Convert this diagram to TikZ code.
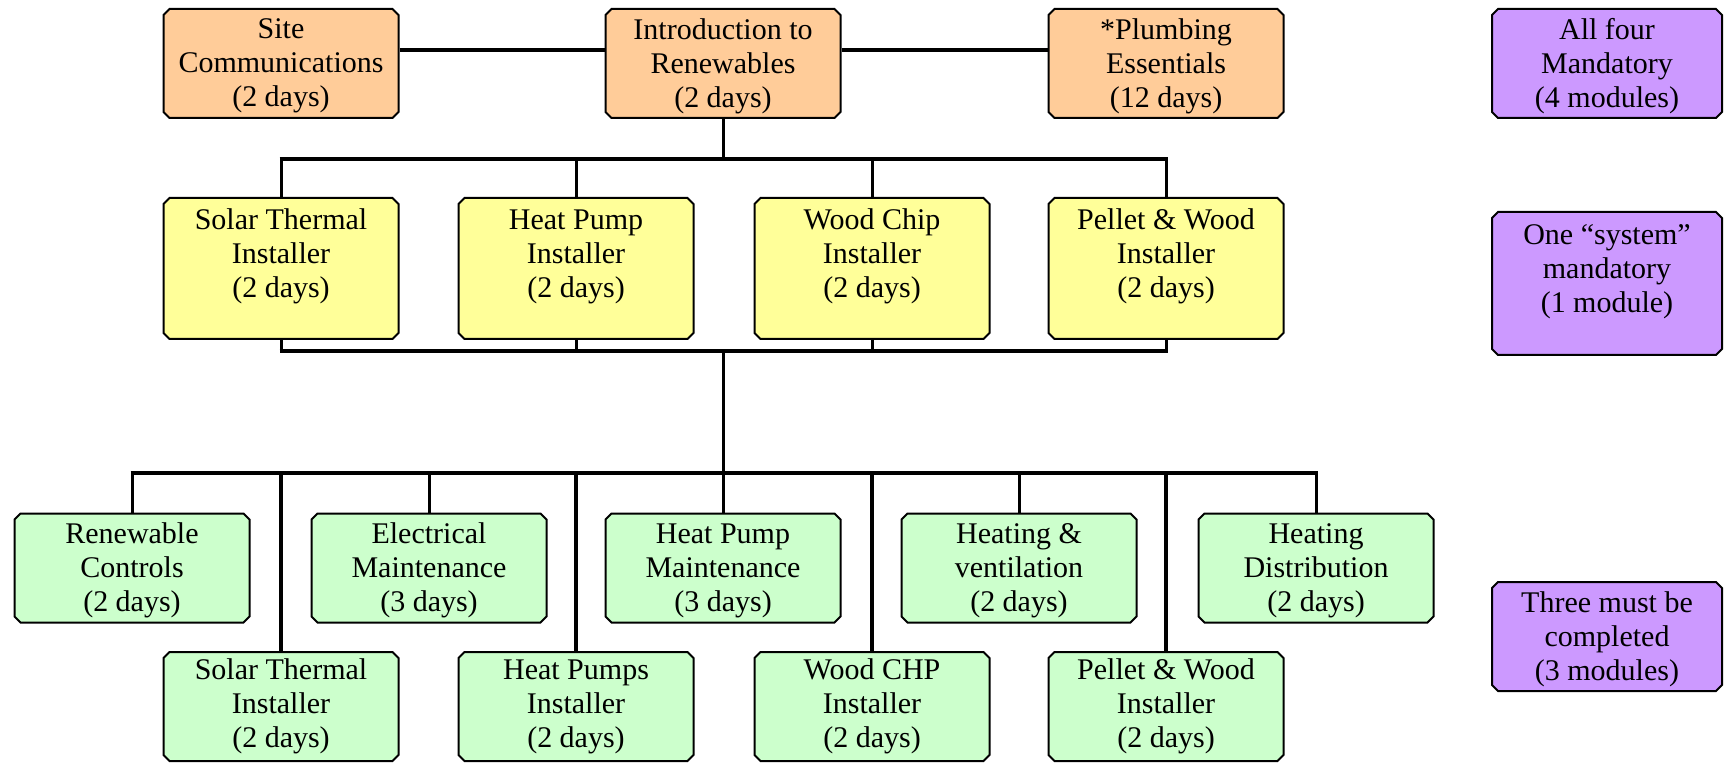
\documentclass[tikz,border=0pt]{standalone}
\usepackage{fontspec}
\setmainfont{Liberation Serif}
\usetikzlibrary{shapes.misc}
\definecolor{peach}{HTML}{FFCC99}
\definecolor{lyellow}{HTML}{FFFF99}
\definecolor{lgreen}{HTML}{CCFFCC}
\definecolor{lpurple}{HTML}{CC99FF}
\begin{document}
\begin{tikzpicture}[x=1pt,y=1pt,
  box/.style={chamfered rectangle, chamfered rectangle xsep=3pt, chamfered rectangle ysep=3pt,
    draw, line width=2pt, align=center,
    minimum width=235pt, minimum height=109pt, inner sep=0pt,
    font=\fontsize{30}{34}\selectfont},
  lowtext/.style={text depth=1pt},
  orbox/.style={box, fill=peach, lowtext},
  yebox/.style={box, fill=lyellow, minimum height=141pt, text depth=30pt},
  grbox/.style={box, fill=lgreen},
  pubox/.style={box, fill=lpurple, minimum width=230pt},
  pubox2/.style={pubox, minimum height=143pt, text depth=30pt},
  bus/.style={line width=4pt},
  link/.style={line width=3pt}]
\useasboundingbox (0,0) rectangle (1724,764);
% top row
\node[orbox] (site) at (281,700.5) {Site\\Communications\\(2 days)};
\node[orbox] (intro) at (723,700.5) {Introduction to\\Renewables\\(2 days)};
\node[orbox] (plumb) at (1166,700.5) {*Plumbing\\Essentials\\(12 days)};
\node[pubox, lowtext] (p1) at (1607,700.5) {All four\\Mandatory\\(4 modules)};
% second row
\node[yebox] (y1) at (281,495.5) {Solar Thermal\\Installer\\(2 days)};
\node[yebox] (y2) at (576,495.5) {Heat Pump\\Installer\\(2 days)};
\node[yebox] (y3) at (872,495.5) {Wood Chip\\Installer\\(2 days)};
\node[yebox] (y4) at (1166,495.5) {Pellet \& Wood\\Installer\\(2 days)};
\node[pubox2] (p2) at (1607,480.5) {One “system”\\mandatory\\(1 module)};
% third row
\node[grbox, lowtext] (g1) at (132,196) {Renewable\\Controls\\(2 days)};
\node[grbox, lowtext] (g2) at (429,196) {Electrical\\Maintenance\\(3 days)};
\node[grbox, lowtext] (g3) at (723,196) {Heat Pump\\Maintenance\\(3 days)};
\node[grbox, lowtext] (g4) at (1019,196) {Heating \&\\ventilation\\(2 days)};
\node[grbox, lowtext] (g5) at (1316,196) {Heating\\Distribution\\(2 days)};
% fourth row
\node[grbox] (h1) at (281,57.5) {Solar Thermal\\Installer\\(2 days)};
\node[grbox] (h2) at (576,57.5) {Heat Pumps\\Installer\\(2 days)};
\node[grbox] (h3) at (872,57.5) {Wood CHP\\Installer\\(2 days)};
\node[grbox] (h4) at (1166,57.5) {Pellet \& Wood\\Installer\\(2 days)};
\node[pubox, lowtext] (p3) at (1607,127.5) {Three must be\\completed\\(3 modules)};
% coordinates of buses
\coordinate (b1) at (723,605);
\coordinate (b2) at (723,413);
\coordinate (b3) at (723,291);
% links
\draw[bus] (site.east |- 0,714) -- (intro.west |- 0,714);
\draw[bus] (intro.east |- 0,714) -- (plumb.west |- 0,714);
\draw[link] (intro.south) -- (b1);
\draw[bus] ([xshift=-1.5pt]y1.north |- b1) -- ([xshift=1.5pt]y4.north |- b1);
\foreach \n in {y1,y2,y3,y4} \draw[link] (\n.north |- b1) -- (\n.north);
\draw[bus] ([xshift=-1.5pt]y1.south |- b2) -- ([xshift=1.5pt]y4.south |- b2);
\foreach \n in {y1,y2,y3,y4} \draw[link] (\n.south) -- (\n.south |- b2);
\draw[link] (b2) -- (b3);
\draw[bus] ([xshift=-1.5pt]g1.north |- b3) -- ([xshift=1.5pt]g5.north |- b3);
\foreach \n in {g1,g2,g3,g4,g5} \draw[link] (\n.north |- b3) -- (\n.north);
\foreach \n in {h1,h2,h3,h4} \draw[bus] (\n.north |- b3) -- (\n.north);
\end{tikzpicture}
\end{document}
